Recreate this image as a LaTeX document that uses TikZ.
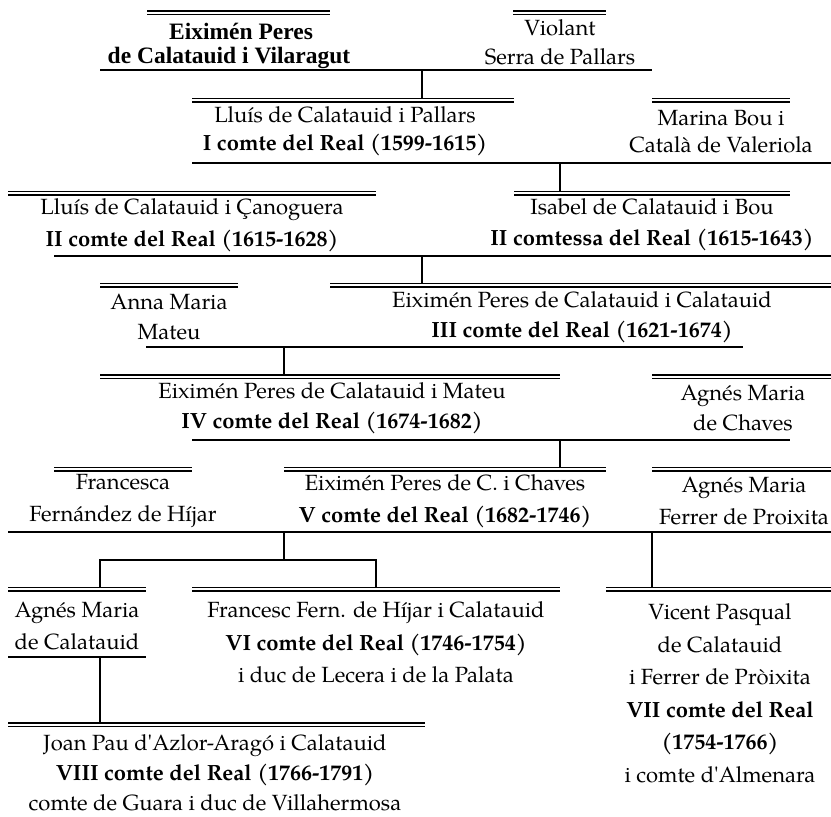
\documentclass[tikz,border=0pt]{standalone}
\usepackage{fontspec}
\setmainfont{texgyrepagella}[Extension=.otf,UprightFont=*-regular,BoldFont=*-bold,Ligatures=TeXOff]
\newfontfamily\timesfont{Liberation Serif}
\begin{document}
\begin{tikzpicture}[x=1pt,y=-1pt,
  person/.style={align=center, inner sep=0pt, font=\fontsize{22}{30}\selectfont},
  topname/.style={inner sep=0pt, font={\timesfont\bfseries\fontsize{23.5}{28}\selectfont}},
  bar/.style={line width=2.4pt},
  thinbar/.style={line width=1.4pt}]
\useasboundingbox (0,0) rectangle (831,817);
\newcommand\dbl[3]{\draw[thinbar] (#1,#3) -- (#2,#3); \draw[thinbar] (#1,#3+3.4) -- (#2,#3+3.4);}
% row 1
\dbl{147}{330}{11}
\dbl{513}{606}{11}
\node[topname] (e0a) at (241,31) {Eiximén Peres};
\node[topname] (e0b) at (229,58) {de Calatauid i Vilaragut};
\node[person, font=\fontsize{22}{29}\selectfont] (v0) at (560,42.5) {Violant\\Serra de Pallars};
\draw[bar] (100,70) -- (652,70);
\draw[bar] (422,70) -- (422,98.5);
% row 2
\dbl{192}{514}{98.5}
\dbl{652}{790}{98.5}
\node[person, font=\fontsize{22}{27.5}\selectfont] (l1) at (345,131) {Lluís de Calatauid i Pallars\\\bfseries I comte del Real (1599-1615)};
\node[person, font=\fontsize{22}{27.5}\selectfont] (m1) at (721,131.5) {Marina Bou i\\Català de Valeriola};
\draw[bar] (192,163) -- (831,163);
\draw[bar] (560,163) -- (560,191.5);
% row 3
\dbl{8}{376}{191.5}
\dbl{514}{790}{191.5}
\node[person, font=\fontsize{22}{32}\selectfont] (l2) at (192,225) {Lluís de Calatauid i Çanoguera\\\bfseries II comte del Real (1615-1628)};
\node[person, font=\fontsize{22}{31}\selectfont] (i2) at (652,224.5) {Isabel de Calatauid i Bou\\\bfseries II comtessa del Real (1615-1643)};
\draw[bar] (54,256) -- (831,256);
\draw[bar] (422,256) -- (422,283.5);
% row 4
\dbl{100}{238}{283.5}
\dbl{330}{831}{283.5}
\node[person] (a3) at (169,317) {Anna Maria\\Mateu};
\node[person] (e3) at (582,317) {Eiximén Peres de Calatauid i Calatauid\\\bfseries III comte del Real (1621-1674)};
\draw[bar] (146,347) -- (743,347);
\draw[bar] (284,347) -- (284,375);
% row 5
\dbl{100}{560}{375}
\dbl{652}{831}{375}
\node[person, font=\fontsize{22}{29.5}\selectfont] (e4) at (332,408) {Eiximén Peres de Calatauid i Mateu\\\bfseries IV comte del Real (1674-1682)};
\node[person] (a4) at (743,408) {Agnés Maria\\de Chaves};
\draw[bar] (192,440) -- (790,440);
\draw[bar] (560,440) -- (560,467.5);
% row 6
\dbl{54}{192}{467.5}
\dbl{284}{606}{467.5}
\dbl{652}{831}{467.5}
\node[person, font=\fontsize{22}{32}\selectfont] (f5) at (123,501) {Francesca\\Fernández de Híjar};
\node[person, font=\fontsize{22}{32}\selectfont] (e5) at (445,501) {Eiximén Peres de C. i Chaves\\\bfseries V comte del Real (1682-1746)};
\node[person, font=\fontsize{22}{32}\selectfont] (a5) at (744,501) {Agnés Maria\\Ferrer de Proixita};
\draw[bar] (8,532) -- (831,532);
\draw[bar] (284,532) -- (284,560);
\draw[bar] (100,587.5) -- (100,560) -- (376,560) -- (376,587.5);
\draw[bar] (652,532) -- (652,587.5);
% row 7
\dbl{8}{146}{587.5}
\dbl{192}{560}{587.5}
\dbl{606}{831}{587.5}
\node[person, font=\fontsize{22}{32}\selectfont] (a6) at (77,626) {Agnés Maria\\de Calatauid};
\node[person, font=\fontsize{22}{32.5}\selectfont] (f6) at (376,642.5) {Francesc Fern. de Híjar i Calatauid\\\textbf{VI comte del Real (1746-1754)}\\i duc de Lecera i de la Palata};
\node[person, font=\fontsize{22}{32.5}\selectfont] (v6) at (720,693) {Vicent Pasqual\\de Calatauid\\i Ferrer de Pròixita\\\textbf{VII comte del Real}\\\textbf{(1754-1766)}\\i comte d'Almenara};
\draw[bar] (8,657) -- (146,657);
\draw[bar] (100,657) -- (100,723);
% row 8
\dbl{8}{425}{723}
\node[person] (j7) at (215,773) {Joan Pau d'Azlor-Aragó i Calatauid\\\textbf{VIII comte del Real (1766-1791)}\\comte de Guara i duc de Villahermosa};
\end{tikzpicture}
\end{document}
